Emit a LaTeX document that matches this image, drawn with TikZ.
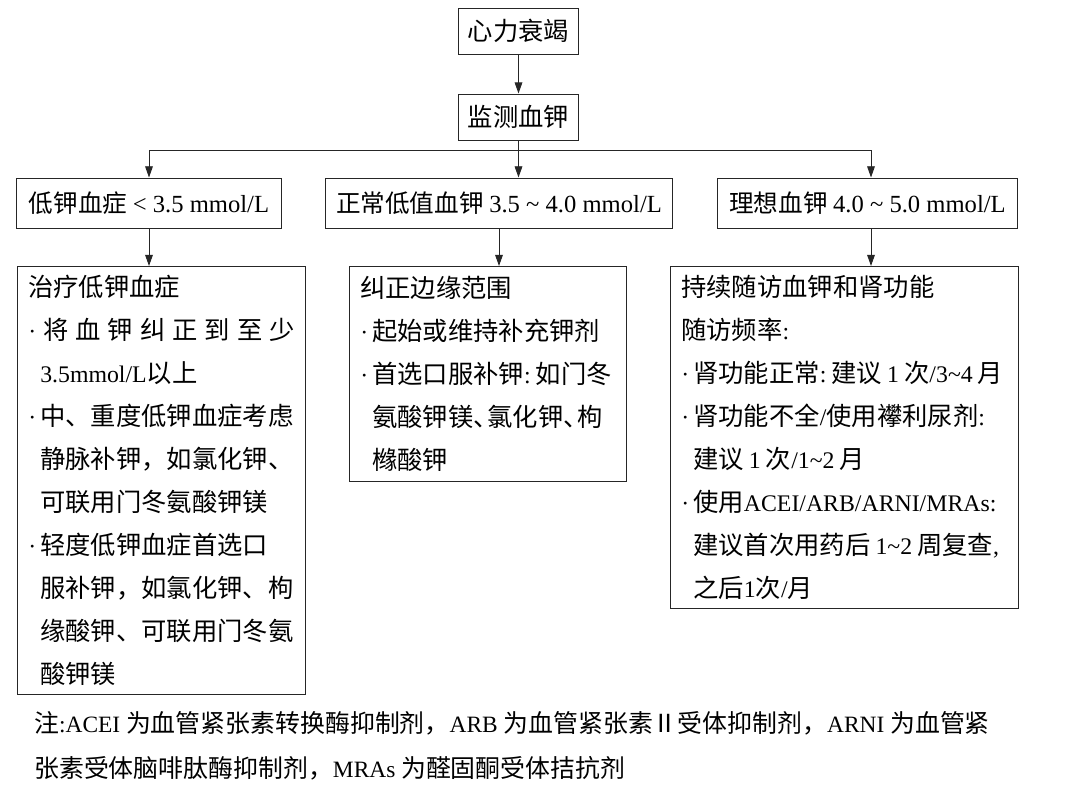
\documentclass[tikz,border=0pt]{standalone}
\usepackage{fontspec}
\setmainfont{Noto Sans CJK SC}
\newfontfamily\enfont[Scale=0.94]{Liberation Serif}
\newfontfamily\enbig{Liberation Serif}
\newcommand{\en}[1]{{\enfont #1}}
\newcommand{\tld}{\textasciitilde}
\usepackage{tikz}
\usetikzlibrary{arrows.meta, positioning}
\newlength{\bw}\setlength{\bw}{0.3cm}
\newcommand{\bul}{\makebox[\bw][l]{\en{·}}}
\newcommand{\ind}{\hspace*{\bw}}
\newcommand{\cln}{\en{:}\hspace{0.2em}}
\newcommand{\dun}{\makebox[0.55em][l]{、}}
\newcommand{\ts}{\hspace{0.2em}}

\begin{document}
\begin{tikzpicture}[
    x=0.025cm, y=-0.025cm,
    font=\fontsize{18pt}{30.6pt}\selectfont,
    topbox/.style = {rectangle, draw=black!85, line width=0.7pt, minimum width=2.975cm, minimum height=1.15cm, inner sep=0pt},
    levelbox/.style = {rectangle, draw=black!85, line width=0.7pt, minimum height=1.25cm, inner sep=0pt, font=\fontsize{17.5pt}{20pt}\selectfont},
    textbox/.style = {rectangle, draw=black!85, line width=0.7pt, align=left, inner xsep=0.27cm, inner ysep=2pt, anchor=north west},
    flow/.style = {draw=black!85, line width=0.7pt, -{Triangle[length=8pt,width=5.5pt]}},
    note_text/.style = {anchor=base west, inner sep=0pt, font=\fontsize{17.7pt}{20pt}\selectfont}
  ]
  \useasboundingbox (0,0) rectangle (1080,797);

  % Top of the flow
  \node [topbox] at (518.5,31) (hf) {心力衰竭};
  \node [topbox, below=0.975cm of hf] (jc) {监测血钾};

  % Potassium levels
  \node [levelbox, minimum width=6.6cm] at (149,203) (low) {低钾血症 {\enbig \textless{} 3.5 mmol/L}};
  \node [levelbox, minimum width=8.65cm] at (499,203) (mid) {正常低值血钾 {\enbig 3.5 \tld{} 4.0 mmol/L}};
  \node [levelbox, minimum width=7.475cm] at (867.5,203) (ideal) {理想血钾 {\enbig 4.0 \tld{} 5.0 mmol/L}};

  % Actions
  \node [textbox, text width=6.66cm, minimum height=10.7cm] at (17,266) (lowtx) {%
    治疗低钾血症\\
    \makebox[6.66cm][s]{\en{·}\hfil 将\hfil 血\hfil 钾\hfil 纠\hfil 正\hfil 到\hfil 至\hfil 少}\\
    \ind\en{3.5mmol/L}以上\\
    \bul 中、重度低钾血症考虑\\
    \ind 静脉补钾，如氯化钾、\\
    \ind 可联用门冬氨酸钾镁\\
    \bul 轻度低钾血症首选口\\
    \ind 服补钾，如氯化钾、枸\\
    \ind 缘酸钾、可联用门冬氨\\
    \ind 酸钾镁};
  \node [textbox, text width=6.385cm, minimum height=5.375cm] at (349,266) (midtx) {%
    纠正边缘范围\\
    \bul 起始或维持补充钾剂\\
    \bul 首选口服补钾\cln 如门冬\\
    \ind 氨酸钾镁\dun 氯化钾\dun 枸\\
    \ind 橼酸钾};
  \node [textbox, text width=8.16cm, minimum height=8.55cm] at (670,266) (idealtx) {%
    持续随访血钾和肾功能\\
    随访频率\cln\\
    \mbox{\bul 肾功能正常\cln 建议\ts\en{1}\ts 次\en{/3\tld 4}\ts 月}\\
    \bul 肾功能不全\en{/}使用襻利尿剂\cln\\
    \ind 建议\ts\en{1}\ts 次\en{/1\tld 2}\ts 月\\
    \bul 使用\en{ACEI/ARB/ARNI/MRAs}\cln\\
    \mbox{\ind 建议首次用药后\ts\en{1\tld 2}\ts 周复查\en{,}}\\
    \ind 之后\en{1}次\en{/}月};

  % Note
  \node [note_text] at (34,732) (note1) {注\en{:}\en{ACEI }为血管紧张素转换酶抑制剂，\en{ARB }为血管紧张素Ⅱ受体抑制剂，\en{ARNI }为血管紧};
  \node [note_text] at (34,777) (note2) {张素受体脑啡肽酶抑制剂，\en{MRAs }为醛固酮受体拮抗剂};

  % Connections
  \coordinate (split) at (518.5,150);
  \draw [flow] (hf) -- (jc);
  \draw [line width=0.7pt, draw=black!85] (jc.south) -- (split);
  \draw [flow] (split) -| (low.north);
  \draw [flow] (split) -- (split |- mid.north);
  \draw [flow] (split) -| ([xshift=0.0875cm]ideal.north);
  \draw [flow] (low.south) -- (low.south |- lowtx.north);
  \draw [flow] (mid.south) -- (mid.south |- midtx.north);
  \draw [flow] ([xshift=0.0875cm]ideal.south) -- ([xshift=0.0875cm]ideal.south |- idealtx.north);
\end{tikzpicture}
\end{document}
